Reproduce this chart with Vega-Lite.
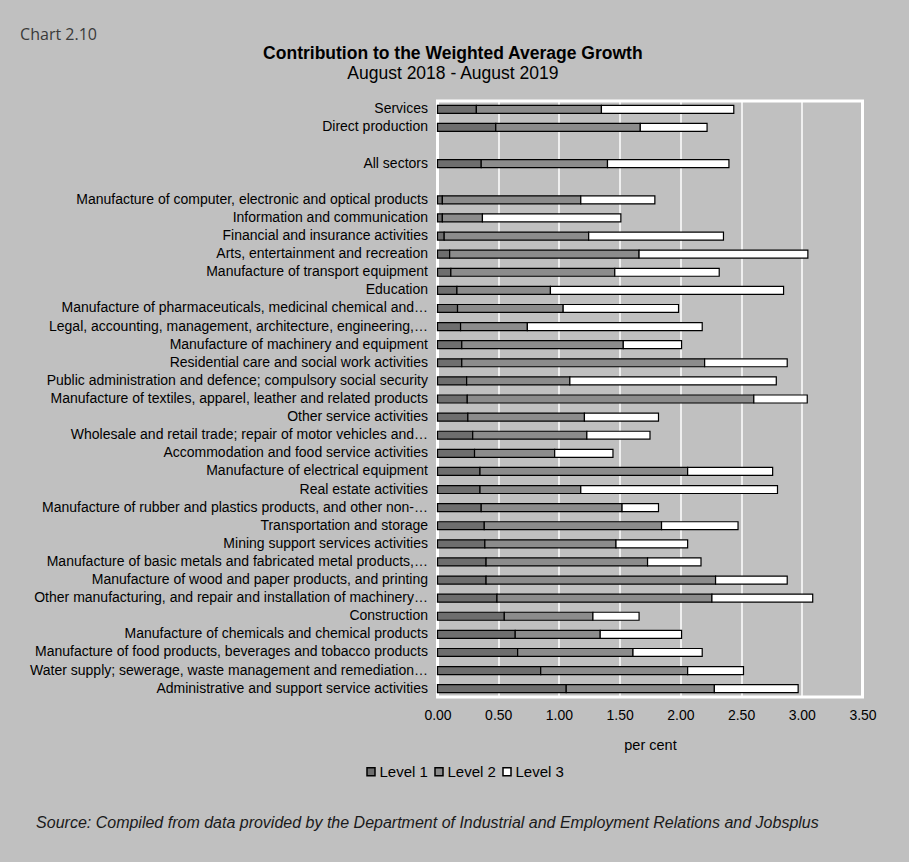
{
  "$schema": "https://vega.github.io/schema/vega-lite/v6.json",
  "background": "#c0c0c0",
  "padding": {"left": 19.5, "right": 35, "top": 27, "bottom": 31},
  "title": {
    "text": "Chart 2.10",
    "anchor": "start",
    "frame": "bounds",
    "font": "Open Sans",
    "fontSize": 16,
    "fontWeight": "normal",
    "color": "#3a3a3a",
    "offset": 0,
    "dx": -8
  },
  "vconcat": [
    {
      "title": {
        "text": "Source: Compiled from data provided by the Department of Industrial and Employment Relations and Jobsplus",
        "orient": "bottom",
        "anchor": "start",
        "frame": "bounds",
        "font": "Liberation Sans",
        "fontStyle": "italic",
        "fontSize": 16,
        "fontWeight": "normal",
        "color": "#1a1a1a",
        "offset": 62,
        "dx": 8
      },
      "vconcat": [
        {
          "width": 425,
          "height": 596,
          "title": {
            "text": "Contribution to the Weighted Average Growth",
            "subtitle": "August 2018 - August 2019",
            "anchor": "middle",
            "frame": "bounds",
            "font": "Liberation Sans",
            "fontSize": 17.5,
            "fontWeight": "bold",
            "color": "#000000",
            "subtitleFont": "Liberation Sans",
            "subtitleFontSize": 17.5,
            "subtitleColor": "#000000",
            "subtitlePadding": 2.5,
            "offset": 19
          },
          "data": {
            "values": [
              {"sector": "Services", "Level 1": 0.32, "Level 2": 1.03, "Level 3": 1.09},
              {"sector": "Direct production", "Level 1": 0.48, "Level 2": 1.19, "Level 3": 0.55},
              {"sector": "All sectors", "Level 1": 0.36, "Level 2": 1.04, "Level 3": 1.0},
              {"sector": "Manufacture of computer, electronic and optical products", "Level 1": 0.04, "Level 2": 1.14, "Level 3": 0.61},
              {"sector": "Information and communication", "Level 1": 0.04, "Level 2": 0.33, "Level 3": 1.14},
              {"sector": "Financial and insurance activities", "Level 1": 0.055, "Level 2": 1.19, "Level 3": 1.11},
              {"sector": "Arts, entertainment and recreation", "Level 1": 0.1, "Level 2": 1.56, "Level 3": 1.39},
              {"sector": "Manufacture of transport equipment", "Level 1": 0.11, "Level 2": 1.35, "Level 3": 0.86},
              {"sector": "Education", "Level 1": 0.16, "Level 2": 0.77, "Level 3": 1.92},
              {"sector": "Manufacture of pharmaceuticals, medicinal chemical and…", "Level 1": 0.165, "Level 2": 0.87, "Level 3": 0.95},
              {"sector": "Legal, accounting, management, architecture, engineering,…", "Level 1": 0.19, "Level 2": 0.55, "Level 3": 1.44},
              {"sector": "Manufacture of machinery and equipment", "Level 1": 0.2, "Level 2": 1.33, "Level 3": 0.48},
              {"sector": "Residential care and social work activities", "Level 1": 0.2, "Level 2": 2.0, "Level 3": 0.68},
              {"sector": "Public administration and defence; compulsory social security", "Level 1": 0.24, "Level 2": 0.85, "Level 3": 1.7},
              {"sector": "Manufacture of textiles, apparel, leather and related products", "Level 1": 0.245, "Level 2": 2.36, "Level 3": 0.44},
              {"sector": "Other service activities", "Level 1": 0.25, "Level 2": 0.96, "Level 3": 0.61},
              {"sector": "Wholesale and retail trade; repair of motor vehicles and…", "Level 1": 0.29, "Level 2": 0.94, "Level 3": 0.52},
              {"sector": "Accommodation and food service activities", "Level 1": 0.305, "Level 2": 0.66, "Level 3": 0.48},
              {"sector": "Manufacture of electrical equipment", "Level 1": 0.35, "Level 2": 1.71, "Level 3": 0.7},
              {"sector": "Real estate activities", "Level 1": 0.35, "Level 2": 0.83, "Level 3": 1.62},
              {"sector": "Manufacture of rubber and plastics products, and other non-…", "Level 1": 0.36, "Level 2": 1.16, "Level 3": 0.3},
              {"sector": "Transportation and storage", "Level 1": 0.385, "Level 2": 1.46, "Level 3": 0.63},
              {"sector": "Mining support services activities", "Level 1": 0.39, "Level 2": 1.08, "Level 3": 0.59},
              {"sector": "Manufacture of basic metals and fabricated metal products,…", "Level 1": 0.4, "Level 2": 1.33, "Level 3": 0.44},
              {"sector": "Manufacture of wood and paper products, and printing", "Level 1": 0.4, "Level 2": 1.89, "Level 3": 0.59},
              {"sector": "Other manufacturing, and repair and installation of machinery…", "Level 1": 0.49, "Level 2": 1.77, "Level 3": 0.83},
              {"sector": "Construction", "Level 1": 0.55, "Level 2": 0.73, "Level 3": 0.38},
              {"sector": "Manufacture of chemicals and chemical products", "Level 1": 0.64, "Level 2": 0.7, "Level 3": 0.67},
              {"sector": "Manufacture of food products, beverages and tobacco products", "Level 1": 0.66, "Level 2": 0.95, "Level 3": 0.57},
              {"sector": "Water supply; sewerage, waste management and remediation…", "Level 1": 0.85, "Level 2": 1.21, "Level 3": 0.46},
              {"sector": "Administrative and support service activities", "Level 1": 1.06, "Level 2": 1.22, "Level 3": 0.69}
            ]
          },
          "transform": [
            {"fold": ["Level 1", "Level 2", "Level 3"], "as": ["level", "value"]}
          ],
          "mark": {"type": "bar", "stroke": "#000000", "strokeWidth": 1.2},
          "encoding": {
            "y": {
              "field": "sector",
              "type": "nominal",
              "sort": null,
              "scale": {
                "domain": [
                  "Services", "Direct production", " ", "All sectors", "  ",
                  "Manufacture of computer, electronic and optical products",
                  "Information and communication",
                  "Financial and insurance activities",
                  "Arts, entertainment and recreation",
                  "Manufacture of transport equipment",
                  "Education",
                  "Manufacture of pharmaceuticals, medicinal chemical and…",
                  "Legal, accounting, management, architecture, engineering,…",
                  "Manufacture of machinery and equipment",
                  "Residential care and social work activities",
                  "Public administration and defence; compulsory social security",
                  "Manufacture of textiles, apparel, leather and related products",
                  "Other service activities",
                  "Wholesale and retail trade; repair of motor vehicles and…",
                  "Accommodation and food service activities",
                  "Manufacture of electrical equipment",
                  "Real estate activities",
                  "Manufacture of rubber and plastics products, and other non-…",
                  "Transportation and storage",
                  "Mining support services activities",
                  "Manufacture of basic metals and fabricated metal products,…",
                  "Manufacture of wood and paper products, and printing",
                  "Other manufacturing, and repair and installation of machinery…",
                  "Construction",
                  "Manufacture of chemicals and chemical products",
                  "Manufacture of food products, beverages and tobacco products",
                  "Water supply; sewerage, waste management and remediation…",
                  "Administrative and support service activities"
                ],
                "paddingInner": 0.56,
                "paddingOuter": 0.24
              },
              "axis": {
                "title": null,
                "domain": false,
                "ticks": false,
                "grid": false,
                "labelPadding": 10,
                "labelFontSize": 14,
                "labelLimit": 0,
                "labelColor": "#000000"
              }
            },
            "x": {
              "field": "value",
              "type": "quantitative",
              "stack": "zero",
              "scale": {"domain": [0, 3.5], "nice": false, "zero": true},
              "axis": {
                "values": [0, 0.5, 1, 1.5, 2, 2.5, 3, 3.5],
                "format": ".2f",
                "title": "per cent",
                "titleFontWeight": "normal",
                "titleFontSize": 14.5,
                "titleColor": "#000000",
                "titlePadding": 16,
                "labelFontSize": 14,
                "labelColor": "#000000",
                "labelPadding": 11,
                "labelFlush": false,
                "domain": false,
                "ticks": false,
                "grid": true,
                "gridColor": "#ffffff",
                "gridWidth": 1.5,
                "gridOpacity": 1
              }
            },
            "color": {
              "field": "level",
              "type": "nominal",
              "scale": {
                "domain": ["Level 1", "Level 2", "Level 3"],
                "range": ["#6e6e6e", "#8c8c8c", "#ffffff"]
              },
              "legend": {
                "title": null,
                "orient": "none",
                "direction": "horizontal",
                "legendX": -74,
                "legendY": 663,
                "symbolType": "square",
                "symbolSize": 64,
                "symbolStrokeColor": "#000000",
                "symbolStrokeWidth": 1.5,
                "labelFontSize": 15,
                "labelColor": "#000000",
                "labelOffset": 1,
                "columnPadding": 3
              }
            },
            "order": {"field": "level", "type": "nominal"}
          }
        }
      ]
    }
  ],
  "config": {
    "font": "Liberation Sans",
    "view": {"stroke": "#ffffff", "strokeWidth": 3},
    "axis": {"labelFont": "Liberation Sans", "titleFont": "Liberation Sans"},
    "legend": {"labelFont": "Liberation Sans"}
  }
}
